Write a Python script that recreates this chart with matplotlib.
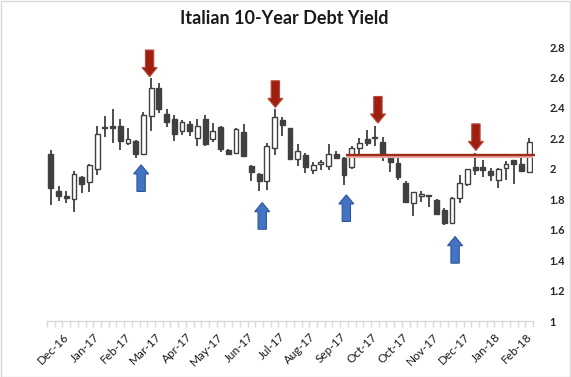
import matplotlib
matplotlib.use("Agg")
import matplotlib.pyplot as plt
from matplotlib.patches import FancyArrow, Rectangle
from matplotlib.transforms import ScaledTranslation
import numpy as np

opens = [2.10, 1.853, 1.818, 1.80, 1.945, 1.91, 2.00, 2.274, 2.281, 2.28,
         2.169, 2.184, 2.097, 2.347, 2.53, 2.36, 2.327, 2.245, 2.294, 2.202,
         2.327, 2.195, 2.274, 2.125, 2.103, 2.241, 2.015, 1.965, 1.917, 2.134,
         2.322, 2.267, 2.064, 2.088, 1.991, 2.031, 2.015, 2.099, 2.07, 2.009,
         2.136, 2.195, 2.208, 2.175, 2.086, 2.037, 1.906, 1.774, 1.824, 1.829,
         1.796, 1.73, 1.643, 1.807, 1.899, 2.009, 2.009, 1.987, 1.926, 2.004,
         2.059, 2.031, 1.978]
highs = [2.125, 1.884, 1.857, 1.987, 1.95, 2.033, 2.283, 2.344, 2.393, 2.327,
         2.268, 2.19, 2.37, 2.597, 2.564, 2.393, 2.355, 2.322, 2.311, 2.327,
         2.355, 2.30, 2.283, 2.13, 2.265, 2.294, 2.026, 1.972, 2.169, 2.393,
         2.34, 2.27, 2.162, 2.103, 2.044, 2.059, 2.162, 2.114, 2.075, 2.147,
         2.202, 2.257, 2.278, 2.206, 2.09, 2.07, 1.917, 1.85, 1.851, 1.83,
         1.80, 1.741, 1.813, 1.961, 2.0, 2.103, 2.059, 2.004, 2.004, 2.053,
         2.06, 2.097, 2.202]
lows = [1.763, 1.789, 1.778, 1.713, 1.844, 1.847, 1.96, 2.208, 2.169, 2.125,
        2.153, 2.07, 2.09, 2.245, 2.366, 2.274, 2.18, 2.219, 2.213, 2.147,
        2.147, 2.173, 2.107, 2.092, 2.10, 2.077, 1.917, 1.851, 1.862, 2.092,
        2.213, 2.059, 2.015, 1.971, 1.967, 1.993, 1.993, 2.064, 1.895, 1.998,
        2.092, 2.147, 2.147, 2.048, 1.982, 1.928, 1.774, 1.693, 1.785, 1.748,
        1.70, 1.632, 1.638, 1.774, 1.888, 1.961, 1.949, 1.921, 1.873, 1.928,
        1.899, 1.985, 1.978]
closes = [1.873, 1.824, 1.806, 1.965, 1.90, 2.024, 2.228, 2.266, 2.265, 2.182,
          2.195, 2.097, 2.353, 2.531, 2.393, 2.307, 2.228, 2.307, 2.245, 2.278,
          2.16, 2.245, 2.129, 2.097, 2.261, 2.081, 1.982, 1.917, 2.149, 2.338,
          2.287, 2.066, 2.114, 2.011, 2.022, 2.042, 2.097, 2.068, 1.956, 2.136,
          2.169, 2.169, 2.20, 2.086, 2.044, 1.943, 1.785, 1.847, 1.833, 1.818,
          1.702, 1.643, 1.807, 1.906, 1.998, 1.991, 1.991, 1.958, 1.998, 2.031,
          2.031, 1.985, 2.175]

label_positions = [0, 4, 8, 12, 16, 20, 24, 28, 32, 36, 40, 44, 48, 52, 56, 60]
label_texts = ['Dec-16', 'Jan-17', 'Feb-17', 'Mar-17', 'Apr-17', 'May-17',
               'Jun-17', 'Jul-17', 'Aug-17', 'Sep-17', 'Oct-17', 'Oct-17',
               'Nov-17', 'Dec-17', 'Jan-18', 'Feb-18']
y_ticks = [1, 1.2, 1.4, 1.6, 1.8, 2, 2.2, 2.4, 2.6, 2.8]

# down arrows (red): x index, tip value ; up arrows (blue): x index, tip value
red_arrow_x = [12.8, 29.1, 42.4, 55.1]
red_arrow_tip = [2.605, 2.403, 2.30, 2.12]
blue_arrow_x = [11.7, 27.4, 38.3, 52.4]
blue_arrow_tip = [2.026, 1.778, 1.829, 1.555]
resistance_level = 2.09
resistance_start = 38.3

title = 'Italian 10-Year Debt Yield'

fig = plt.figure(figsize=(5.71, 3.77), dpi=100)
ax = fig.add_axes([47/571, 1-321/377, 486/571, 274/377])
n = len(opens)
x = np.arange(n)
dark = '#404040'

ax.vlines(x, lows, highs, color=dark, lw=1.3, zorder=2)
o = np.array(opens); c = np.array(closes)
bottoms = np.minimum(o, c)
heights = np.maximum(np.abs(c - o), 0.004)
fills = ['white' if cc > oo else dark for oo, cc in zip(o, c)]
ax.bar(x, heights, bottom=bottoms, width=0.62, color=fills,
       edgecolor=dark, linewidth=1.0, zorder=3)

# resistance line
ax.plot([resistance_start, n - 0.3], [resistance_level - 0.007] * 2,
        color='#E8A8A0', lw=2.2, zorder=4, solid_capstyle='butt')
ax.plot([resistance_start, n - 0.3], [resistance_level] * 2,
        color='#A3291B', lw=1.7, zorder=5, solid_capstyle='butt', clip_on=False)

L = 0.175; HL = 0.06; W = 1.08; HW = 1.95
for xx, tip in zip(red_arrow_x, red_arrow_tip):
    ax.add_patch(FancyArrow(xx, tip + L, 0, -L, width=W, head_width=HW,
                            head_length=HL, length_includes_head=True,
                            facecolor='#9E1E10', edgecolor='#B8473A', lw=0.8, zorder=6))
for xx, tip in zip(blue_arrow_x, blue_arrow_tip):
    ax.add_patch(FancyArrow(xx, tip - L, 0, L, width=W, head_width=HW,
                            head_length=HL, length_includes_head=True,
                            facecolor='#4472C4', edgecolor='#2F5597', lw=0.8, zorder=6))

ax.set_xlim(-0.5, n - 0.5)
ax.set_ylim(1, 2.8)
for s in ['top', 'left', 'right']:
    ax.spines[s].set_visible(False)
ax.spines['bottom'].set_color('#D9D9D9')
ax.spines['bottom'].set_linewidth(1.0)

ax.set_xticks(label_positions)
ax.set_xticklabels(label_texts, rotation=45, ha='right', va='center',
                   rotation_mode='anchor', fontsize=8.5, family='Lato', color='#1a1a1a')
ax.set_xticks(np.arange(-0.5, n, 1), minor=True)
ax.tick_params(axis='x', which='major', length=0, pad=10)
ax.tick_params(axis='x', which='minor', length=4, color='#D9D9D9', width=1)
offset = ScaledTranslation(0.16, 0, fig.dpi_scale_trans)
for lab in ax.get_xticklabels():
    lab.set_transform(lab.get_transform() + offset)

ax.yaxis.tick_right()
ax.set_yticks(y_ticks)
ax.set_yticklabels([f'{v:g}' for v in y_ticks], fontsize=8, family='Lato',
                   fontweight='bold', color='#262626')
ax.tick_params(axis='y', length=0, pad=12)

fig.text(284/571, 1-18/377, title, ha='center', va='center', fontsize=13,
         family='Lato', fontweight='bold', color='#1a1a1a')

fig.patches.append(Rectangle((0.5/571, 0.5/377), 1-1.5/571, 1-1.5/377,
                             transform=fig.transFigure, fill=False,
                             edgecolor='#D9D9D9', lw=1))

fig.savefig('out.png', dpi=100)
